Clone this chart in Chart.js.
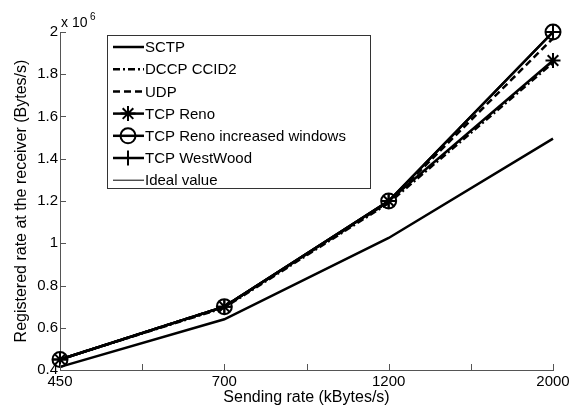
<!DOCTYPE html>
<html>
<head>
<meta charset="utf-8">
<script src="https://cdn.jsdelivr.net/npm/chart.js@4"></script>
<style>
  html, body { margin: 0; padding: 0; background: #fff; }
  #wrap { width: 577px; height: 407px; }
</style>
</head>
<body>
<div id="wrap"><canvas id="c" width="577" height="407"></canvas></div>
<script>
// sending rates (kBytes/s)
const categories = ['450', '700', '1200', '2000'];
// registered rate, in units of 1e6 Bytes/s
const sctp       = [0.415, 0.640, 1.025, 1.495];
const dccp       = [0.450, 0.695, 1.190, 1.855];
const udp        = [0.450, 0.700, 1.195, 1.970];
const tcpReno    = [0.450, 0.700, 1.200, 1.865];
const tcpRenoWin = [0.450, 0.700, 1.200, 2.000];
const westwood   = [0.450, 0.700, 1.200, 2.000];
const ideal      = [0.450, 0.700, 1.200, 2.000];
const yTicks = [0.4, 0.6, 0.8, 1, 1.2, 1.4, 1.6, 1.8, 2];

const pts = arr => arr.map((v, i) => ({ x: i, y: v }));
const FONT = 'Arial, "Liberation Sans", sans-serif';

const series = (label, data, extra) => Object.assign({
    label: label,
    data: pts(data),
    borderColor: '#000',
    backgroundColor: 'rgba(0,0,0,0)',
    borderWidth: 2.5,
    pointRadius: 0,
    pointBorderWidth: 2,
    pointStyle: 'circle',
    tension: 0,
    clip: false
}, extra);

// inward tick marks, MATLAB style
const innerTicks = {
    id: 'innerTicks',
    afterDraw(chart) {
        const ctx = chart.ctx, a = chart.chartArea;
        const xs = chart.scales.x, ys = chart.scales.y;
        ctx.save();
        ctx.strokeStyle = '#555';
        ctx.lineWidth = 1;
        ctx.beginPath();
        xs.ticks.forEach(t => {
            const px = Math.round(xs.getPixelForValue(t.value)) + 0.5;
            ctx.moveTo(px, a.bottom);
            ctx.lineTo(px, a.bottom - 6);
        });
        ys.ticks.forEach(t => {
            const py = Math.round(ys.getPixelForValue(t.value)) + 0.5;
            ctx.moveTo(a.left, py);
            ctx.lineTo(a.left + 6, py);
        });
        ctx.stroke();
        // exponent label
        ctx.fillStyle = '#000';
        ctx.textBaseline = 'alphabetic';
        ctx.font = '14px ' + FONT;
        ctx.fillText('x 10', a.left + 1, a.top - 5);
        ctx.font = '10px ' + FONT;
        ctx.fillText('6', a.left + 30, a.top - 12);
        ctx.restore();
    }
};

// boxed legend with line + marker samples
const boxLegend = {
    id: 'boxLegend',
    afterDraw(chart) {
        const ctx = chart.ctx;
        const x0 = 107, y0 = 35, w = 263, h = 153;
        ctx.save();
        ctx.fillStyle = '#fff';
        ctx.fillRect(x0, y0, w, h);
        ctx.strokeStyle = '#333';
        ctx.lineWidth = 1;
        ctx.strokeRect(x0 + 0.5, y0 + 0.5, w, h);
        chart.data.datasets.forEach((ds, i) => {
            const y = y0 + 12 + i * 22.2;
            ctx.strokeStyle = '#000';
            ctx.lineWidth = ds.borderWidth;
            ctx.setLineDash(ds.borderDash || []);
            ctx.beginPath();
            ctx.moveTo(x0 + 6, y);
            ctx.lineTo(x0 + 37, y);
            ctx.stroke();
            ctx.setLineDash([]);
            if (ds.legendMarker) {
                ctx.lineWidth = ds.pointBorderWidth;
                ctx.fillStyle = 'rgba(0,0,0,0)';
                Chart.helpers.drawPoint(ctx, {
                    pointStyle: ds.pointStyle, radius: 7.5, borderWidth: ds.pointBorderWidth, rotation: 0
                }, x0 + 21, y);
            }
            ctx.fillStyle = '#000';
            ctx.font = '15px ' + FONT;
            ctx.textBaseline = 'middle';
            ctx.fillText(ds.label, x0 + 38, y + 1);
        });
        ctx.restore();
    }
};

new Chart(document.getElementById('c'), {
    type: 'line',
    data: {
        datasets: [
            series('SCTP', sctp),
            series('DCCP CCID2', dccp, { borderDash: [7, 3, 2, 3] }),
            series('UDP', udp, { borderDash: [7, 4] }),
            series('TCP Reno', tcpReno, { pointRadius: 7.5, pointStyle: 'star', legendMarker: true }),
            series('TCP Reno increased windows', tcpRenoWin, { pointRadius: 7.5, pointStyle: 'circle', legendMarker: true }),
            series('TCP WestWood', westwood, { pointRadius: 7.5, pointStyle: 'cross', legendMarker: true }),
            series('Ideal value', ideal, { borderWidth: 1 })
        ]
    },
    options: {
        responsive: false,
        animation: false,
        events: [],
        layout: { padding: { top: 32, right: 24, left: 14, bottom: 0 } },
        plugins: {
            legend: { display: false },
            tooltip: { enabled: false }
        },
        scales: {
            x: {
                type: 'linear',
                min: 0,
                max: categories.length - 1,
                afterFit: s => { s.height = 37; },
                afterBuildTicks: s => {
                    s.ticks = [0, 0.5, 1, 1.5, 2, 2.5, 3].map(v => ({ value: v }));
                },
                ticks: {
                    autoSkip: false,
                    maxRotation: 0,
                    padding: 3,
                    color: '#000',
                    font: { family: FONT, size: 15 },
                    callback: v => Number.isInteger(v) ? categories[v] : ''
                },
                grid: { display: false, drawTicks: false },
                border: { color: '#555', width: 1 },
                title: {
                    display: true,
                    text: 'Sending rate (kBytes/s)',
                    color: '#000',
                    font: { family: FONT, size: 16 },
                    padding: { top: 0, bottom: 0 }
                }
            },
            y: {
                min: 0.4,
                max: 2,
                afterFit: s => { s.width = 46; },
                afterBuildTicks: s => {
                    s.ticks = yTicks.map(v => ({ value: v }));
                },
                ticks: {
                    padding: 2,
                    color: '#000',
                    font: { family: FONT, size: 15 },
                    callback: v => String(Math.round(v * 10) / 10)
                },
                grid: { display: false, drawTicks: false },
                border: { color: '#555', width: 1 },
                title: {
                    display: false
                }
            }
        }
    },
    plugins: [innerTicks, boxLegend, {
        id: 'yTitle',
        afterDraw(chart) {
            const ctx = chart.ctx, a = chart.chartArea;
            ctx.save();
            ctx.translate(22, (a.top + a.bottom) / 2);
            ctx.rotate(-Math.PI / 2);
            ctx.fillStyle = '#000';
            ctx.font = '16px ' + FONT;
            ctx.textAlign = 'center';
            ctx.textBaseline = 'middle';
            ctx.fillText('Registered rate at the receiver (Bytes/s)', 0, 0);
            ctx.restore();
        }
    }]
});
</script>
</body>
</html>
